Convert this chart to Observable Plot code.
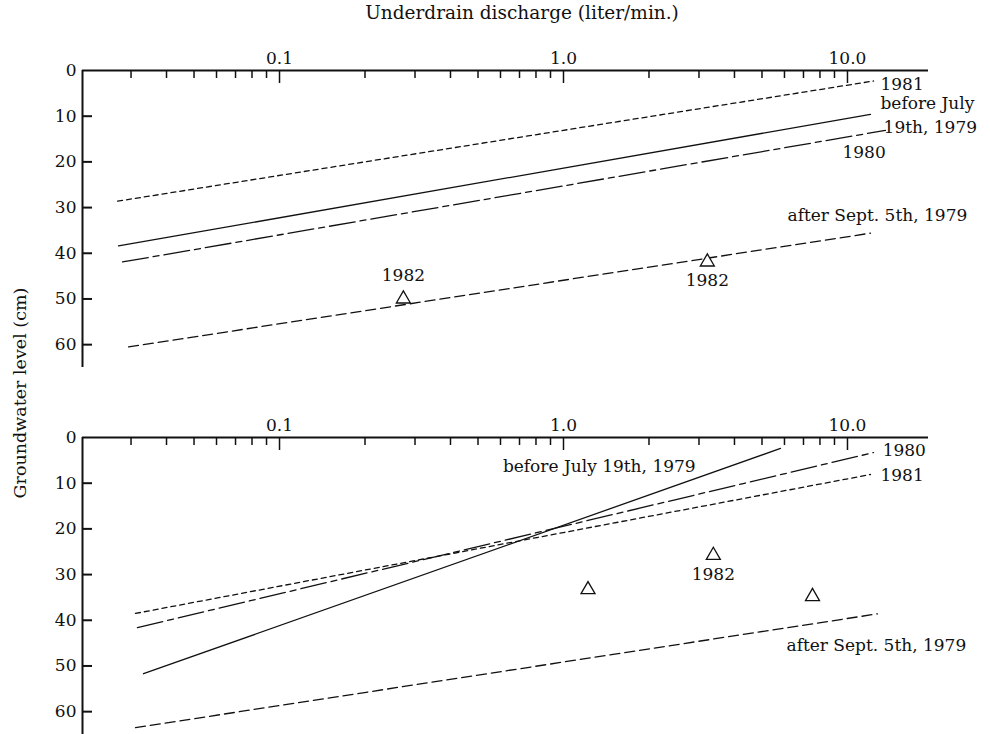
<!DOCTYPE html>
<html>
<head>
<meta charset="utf-8">
<script src="https://cdn.jsdelivr.net/npm/d3@7"></script>
<script src="https://cdn.jsdelivr.net/npm/@observablehq/plot@0.6"></script>
<style>
  html, body { margin: 0; padding: 0; background: #fff; }
  #wrap { position: relative; width: 990px; height: 734px; overflow: hidden; color: #111; background: #fff; }
  .panel { position: absolute; left: 0; z-index: 1; }
</style>
</head>
<body>
<div id="wrap">
  <div id="top" class="panel" style="top:0px"></div>
  <div id="bottom" class="panel" style="top:372px"></div>
  <div id="title" style="position:absolute; z-index:5; top:2px; left:0; width:1044px; text-align:center; font-family:'DejaVu Serif','Liberation Serif',serif; font-size:18.5px;">Underdrain discharge (liter/min.)</div>
  <div id="ylab" style="position:absolute; z-index:5; left:20px; top:393px; transform:translate(-50%,-50%) rotate(-90deg); white-space:nowrap; font-family:'DejaVu Serif','Liberation Serif',serif; font-size:17.5px;">Groundwater level (cm)</div>
</div>
<script>
// ---------- data ----------
const seriesNames = ["before July 19th, 1979", "after Sept. 5th, 1979", "1980", "1981"];
const seriesDash  = ["none", "10,5", "26,5,6,5", "5,4"];

// upper panel: straight regression lines (discharge in liter/min, level in cm)
const topStartX = [0.0271, 0.0294, 0.0280, 0.0269];
const topStartY = [38.4, 60.5, 41.9, 28.6];
const topEndX   = [12.05, 12.05, 13.6, 12.35];
const topEndY   = [9.6, 35.6, 13.1, 2.3];

// lower panel
const botStartX = [0.0332, 0.0311, 0.0316, 0.0311];
const botStartY = [51.7, 63.5, 41.6, 38.5];
const botEndX   = [5.81, 12.75, 12.35, 12.05];
const botEndY   = [2.4, 38.6, 3.3, 8.1];

// 1982 observations (triangles)
const topObsX = [0.273, 3.21];
const topObsY = [50.0, 41.9];
const topObsLabel = ["above", "below"];
const botObsX = [1.22, 3.37, 7.53];
const botObsY = [33.3, 25.8, 34.8];
const botObsLabel = ["none", "below", "none"];

// annotation labels
const topLabelText = ["1981", "before July", "19th, 1979", "1980", "after Sept. 5th, 1979"];
const topLabelX = [13.07, 13.07, 13.4, 9.6, 6.15];
const topLabelY = [3.1, 7.2, 12.4, 17.9, 31.7];
const topLabelAnchor = ["start", "start", "start", "start", "start"];
const botLabelText = ["before July 19th, 1979", "1980", "1981", "after Sept. 5th, 1979"];
const botLabelX = [2.92, 13.3, 13.07, 6.1];
const botLabelY = [6.35, 2.85, 8.3, 45.5];
const botLabelAnchor = ["end", "start", "start", "start"];

// axes
const xDomain = [0.02024, 19.29];
const yDomain = [0, 65];
const xMajorTicks = [0.1, 1, 10];
const xMajorLabels = ["0.1", "1.0", "10.0"];
const xMinorTicks = [0.03,0.04,0.05,0.06,0.07,0.08,0.09, 0.2,0.3,0.4,0.5,0.6,0.7,0.8,0.9, 2,3,4,5,6,7,8,9];
const yTicks = [0, 10, 20, 30, 40, 50, 60];

// ---------- build ----------
function lineRows(sx, sy, ex, ey) {
  const rows = [];
  seriesNames.forEach((name, i) => {
    rows.push({series: name, x: sx[i], y: sy[i]});
    rows.push({series: name, x: ex[i], y: ey[i]});
  });
  return rows;
}

const FH = 297; // frame height in px
const FW = 846; // frame width in px
const font = "DejaVu Serif";
const FS = 17;

function panel(opts) {
  const {rows, obsX, obsY, obsLabel, labText, labX, labY, labAnchor, marginTop, height} = opts;
  const obs = obsX.map((x, i) => ({x, y: obsY[i], lab: obsLabel[i]}));
  const labs = labText.map((t, i) => ({t, x: labX[i], y: labY[i], a: labAnchor[i]}));
  const marks = [];
  seriesNames.forEach((name, i) => {
    marks.push(Plot.line(rows.filter(r => r.series === name), {
      x: "x", y: "y", stroke: "#111", strokeWidth: 1.3,
      strokeDasharray: seriesDash[i] === "none" ? null : seriesDash[i]
    }));
  });
  marks.push(Plot.ruleY([0], {stroke: "#111", strokeWidth: 2}));
  marks.push(Plot.ruleX([xDomain[0]], {y1: yDomain[0], y2: yDomain[1], stroke: "#111", strokeWidth: 2}));
  marks.push(Plot.tickX(xMinorTicks, {x: d => d, stroke: "#111", strokeWidth: 1.5, insetBottom: FH - 8}));
  marks.push(Plot.tickX(xMajorTicks, {x: d => d, stroke: "#111", strokeWidth: 1.5, insetBottom: FH - 13}));
  marks.push(Plot.tickY(yTicks.slice(1), {y: d => d, stroke: "#111", strokeWidth: 2, insetRight: FW - 10}));
  marks.push(Plot.axisX(xMajorTicks, {anchor: "top", tickSize: 0, tickPadding: 7,
    tickFormat: (d) => xMajorLabels[xMajorTicks.indexOf(d)], fontSize: FS, fontFamily: font, label: null}));
  marks.push(Plot.axisY(yTicks, {anchor: "left", tickSize: 0, tickPadding: 6,
    tickFormat: d => String(d), fontSize: FS, fontFamily: font, label: null}));
  marks.push(Plot.dot(obs, {x: "x", y: "y", symbol: "triangle", r: 5.2, stroke: "#111", strokeWidth: 1.3, fill: "white"}));
  marks.push(Plot.text(obs.filter(d => d.lab === "above"), {x: "x", y: "y", text: () => "1982", dy: -23, fontSize: FS, fontFamily: font, fill: "#111"}));
  marks.push(Plot.text(obs.filter(d => d.lab === "below"), {x: "x", y: "y", text: () => "1982", dy: 19, fontSize: FS, fontFamily: font, fill: "#111"}));
  ["start", "end"].forEach(a => {
    marks.push(Plot.text(labs.filter(d => d.a === a), {x: "x", y: "y", text: "t", textAnchor: a, fontSize: FS, fontFamily: font, fill: "#111"}));
  });
  return Plot.plot({
    width: 990,
    height,
    marginLeft: 82,
    marginRight: 62,
    marginTop,
    marginBottom: height - marginTop - FH,
    style: {fontFamily: font, color: "#111", background: "transparent"},
    x: {type: "log", domain: xDomain, axis: null},
    y: {domain: yDomain, reverse: true, axis: null},
    marks
  });
}

document.getElementById("top").appendChild(panel({
  rows: lineRows(topStartX, topStartY, topEndX, topEndY),
  obsX: topObsX, obsY: topObsY, obsLabel: topObsLabel,
  labText: topLabelText, labX: topLabelX, labY: topLabelY, labAnchor: topLabelAnchor,
  marginTop: 70, height: 372
}));

document.getElementById("bottom").appendChild(panel({
  rows: lineRows(botStartX, botStartY, botEndX, botEndY),
  obsX: botObsX, obsY: botObsY, obsLabel: botObsLabel,
  labText: botLabelText, labX: botLabelX, labY: botLabelY, labAnchor: botLabelAnchor,
  marginTop: 65, height: 362
}));
</script>
</body>
</html>
